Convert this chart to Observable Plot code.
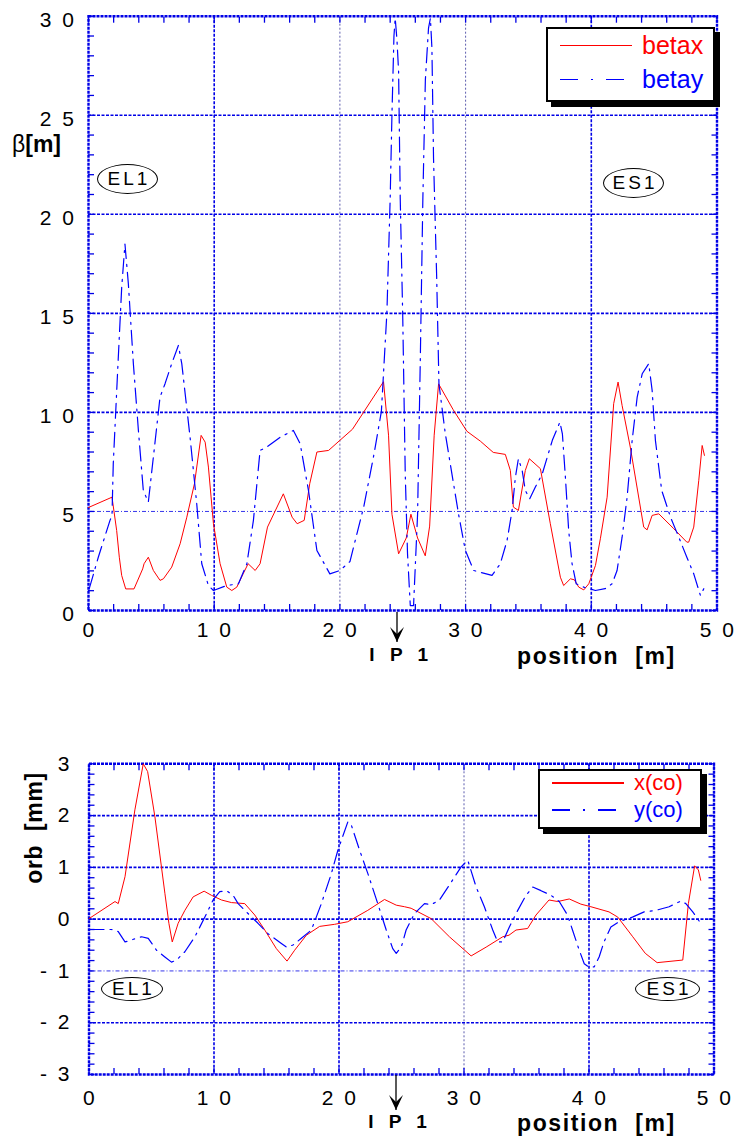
<!DOCTYPE html>
<html><head><meta charset="utf-8">
<script src="https://cdn.jsdelivr.net/npm/d3@7"></script>
<script src="https://cdn.jsdelivr.net/npm/@observablehq/plot@0.6"></script>
<style>
body{margin:0;background:#fff;font-family:"Liberation Sans",Arial,Helvetica,sans-serif;}
#wrap{position:relative;width:735px;height:1138px;overflow:hidden;background:#fff;}
#wrap > svg{position:absolute;left:0;}
g[aria-label="x-axis tick label"] text, g[aria-label="y-axis tick label"] text{letter-spacing:2.5px;}
.legend{position:absolute;background:#fff;border:2px solid #000;box-shadow:5px 5px 0 #000;box-sizing:border-box;}
.legend .row{position:absolute;left:12px;display:flex;align-items:center;}
.legend .sw{width:72px;height:2px;margin-right:10px;}
.ell{position:absolute;border:1px solid #000;border-radius:50%;box-sizing:border-box;display:flex;align-items:center;justify-content:center;font-size:19px;letter-spacing:3px;padding-left:3px;color:#000;background:#fff;}
.ttl{position:absolute;color:#000;font-weight:bold;white-space:pre;}
.ip{position:absolute;font-weight:bold;font-size:19px;letter-spacing:5px;white-space:pre;transform:translateX(-50%);}
</style></head><body><div id="wrap"></div>
<script>
// ---------- data ----------
const xTicks = [0, 10, 20, 30, 40, 50];
const betaTicks = [0, 5, 10, 15, 20, 25, 30];
const orbTicks = [-3, -2, -1, 0, 1, 2, 3];

const betaxPos = [0,1.87,2.24,2.45,2.64,2.96,3.62,4.31,4.42,4.76,5.16,5.69,5.96,6.62,7.29,7.82,8.43,8.96,9.28,9.54,9.94,10.47,11.0,11.4,11.8,12.3,12.7,13.26,13.65,14.24,15.5,16.2,16.6,17.16,17.6,18.17,19.1,20.0,21.0,23.47,23.87,24.14,24.67,25.28,25.65,26.18,26.79,27.14,27.5,27.85,29.0,30.1,31.17,32.2,33.16,33.56,33.8,34.2,34.75,35.07,35.95,36.74,37.54,37.8,38.34,38.65,39.0,39.4,39.8,40.33,40.72,41.26,41.78,42.13,42.45,43.1,44.17,44.44,44.84,45.37,46.56,47.6,47.75,48.15,48.55,48.82,49.0];
const betaxVal = [5.2,5.72,4.04,2.69,1.77,1.09,1.09,2.1,2.36,2.69,2.02,1.52,1.6,2.19,3.37,4.71,6.4,8.84,8.5,7.24,4.38,2.36,1.18,1.01,1.18,1.85,2.36,2.02,2.36,4.21,5.89,4.71,4.38,4.55,6.4,8.0,8.08,8.59,9.15,11.55,8.85,4.86,2.86,3.66,4.86,3.66,2.76,4.26,8.85,11.44,10.15,9.05,8.55,7.98,7.88,7.07,5.22,5.05,7.07,7.66,7.16,4.38,1.68,1.26,1.6,1.55,1.18,1.04,1.35,2.27,3.62,5.72,10.44,11.53,10.35,8.25,4.21,4.07,4.8,4.88,4.13,3.45,3.45,4.21,6.57,8.33,7.83];

const betayPos = [0.06,0.78,1.71,1.87,1.97,2.32,2.64,2.9,3.17,3.57,3.97,4.36,4.76,5.16,5.69,6.09,6.62,7.15,7.42,8.08,8.61,9.01,9.54,9.94,11.0,11.93,12.6,13.12,13.65,14.19,15.25,16.3,16.84,17.5,18.17,19.2,20.0,20.8,21.9,22.7,23.3,23.74,24.0,24.14,24.3,24.4,24.54,24.67,24.8,25.0,25.2,25.38,25.6,25.86,26.18,26.4,26.6,26.8,27.05,27.2,27.32,27.45,27.7,27.88,28.38,29.44,29.97,30.37,30.64,32.1,32.76,33.3,33.7,33.96,34.2,34.5,34.75,35.1,35.55,36.1,36.9,37.5,37.7,37.94,38.2,38.47,38.8,39.4,40.33,41.1,41.66,42.05,42.45,42.85,43.25,43.65,44.05,44.57,44.84,45.1,45.6,46.3,46.96,47.6,48.15,48.68,48.95];
const betayVal = [1.1,2.69,4.55,4.8,7.4,12.1,16.3,18.5,16.5,12.46,9.09,6.06,5.47,7.74,10.77,11.45,12.46,13.38,12.46,8.75,5.39,2.36,1.26,1.01,1.26,1.35,2.36,4.55,8.08,8.25,8.75,9.09,8.42,6.06,3.03,1.85,2.02,2.47,5.25,7.85,10.05,15.05,20.8,25.0,29.0,29.9,28.8,27.2,20.8,14.8,6.86,2.86,0.25,0.25,4.86,12.8,20.8,26.8,29.4,29.9,28.4,22.8,16.8,11.44,8.95,4.86,3.06,2.44,2.02,1.77,2.36,3.54,5.05,6.73,7.66,7.07,6.06,5.64,6.23,6.9,8.59,9.51,8.92,6.73,4.04,2.36,1.35,1.18,1.01,1.1,1.35,2.02,3.7,5.72,8.59,10.77,11.95,12.46,11.11,8.59,6.06,4.71,3.7,2.69,1.85,0.76,1.1];

const xcoPos = [0,2.08,2.34,2.88,3.67,4.34,4.69,5.27,6.07,6.39,6.66,7.13,7.67,8.33,9.21,9.8,10.6,11.4,12.46,13.26,14.06,14.99,15.84,16.45,17.39,18.45,19.65,20.7,22.3,23.64,24.58,25.24,25.77,27.37,28.83,30.57,31.77,33.1,33.6,34.16,35.09,35.76,36.8,37.5,38.42,39.35,40.15,41.6,42.3,43.5,44.5,45.45,47.5,47.95,48.45,48.75,48.94];
const xcoVal = [0.01,0.34,0.3,0.82,2.11,3.0,2.85,1.98,0.5,-0.08,-0.44,-0.08,0.17,0.43,0.54,0.46,0.37,0.32,0.3,0.08,-0.21,-0.57,-0.81,-0.6,-0.31,-0.14,-0.1,-0.05,0.17,0.38,0.27,0.24,0.21,0.01,-0.34,-0.71,-0.54,-0.34,-0.31,-0.21,-0.18,0.08,0.37,0.34,0.39,0.29,0.24,0.14,0.04,-0.34,-0.66,-0.84,-0.79,0.3,1.03,0.95,0.75];

const ycoPos = [0,1.81,2.34,2.88,4.21,4.74,5.4,6.07,6.6,7.0,7.67,8.47,9.27,9.93,10.46,11.0,11.53,11.93,12.72,13.52,14.32,15.39,15.79,16.32,16.99,17.79,18.59,19.39,19.91,20.71,20.98,21.65,22.31,23.1,23.78,24.3,24.58,24.98,25.37,26.04,26.84,27.37,28.04,28.83,29.77,30.3,30.97,31.63,32.3,32.69,33.1,33.63,34.3,34.96,35.5,36.16,36.96,37.62,38.28,38.68,39.22,39.62,40.02,40.42,40.81,41.2,41.75,42.41,43.47,44.41,45.35,46.41,47.35,47.75,48.3,48.94];
const ycoVal = [-0.2,-0.2,-0.24,-0.44,-0.34,-0.37,-0.6,-0.73,-0.83,-0.79,-0.63,-0.34,0.04,0.37,0.53,0.55,0.46,0.3,0.11,-0.08,-0.28,-0.47,-0.54,-0.5,-0.37,-0.21,0.3,0.88,1.33,1.88,1.82,1.33,0.88,0.3,-0.21,-0.57,-0.66,-0.54,-0.21,0.11,0.3,0.28,0.37,0.66,1.01,1.14,0.62,0.24,-0.21,-0.44,-0.44,-0.15,0.17,0.46,0.62,0.55,0.46,0.34,0.08,-0.21,-0.6,-0.86,-0.93,-0.92,-0.73,-0.44,-0.15,-0.05,0.04,0.14,0.17,0.24,0.35,0.3,0.14,-0.08];

const ipPos = [24.6];
const topLabels = ["EL1", "ES1"];
const legendTop = ["betax", "betay"];
const legendBot = ["x(co)", "y(co)"];

// ---------- helpers ----------
const BLUE = "#0000e6";
const spaced = d => d < 0 ? "- " + String(-d).split("").join(" ") : String(d).split("").join(" ");
const range = (a, b, s) => { const r = []; for (let v = a; v <= b + 1e-9; v += s) r.push(+v.toFixed(3)); return r; };
const DASH = "15,6,2,6";

function frameMarks(xMinor, yMinor, gridThickX, gridThinX, gridThickY, gridThinY) {
  const gs = {stroke: BLUE, strokeOpacity: 1};
  return [
    Plot.gridX({ticks: gridThickX, ...gs, strokeWidth: 1.6, strokeDasharray: "3,1.5"}),
    Plot.gridX({ticks: gridThinX, stroke: "#333399", strokeOpacity: 1, strokeWidth: 0.8, strokeDasharray: "2,2"}),
    Plot.gridY({ticks: gridThickY, ...gs, strokeWidth: 1.6, strokeDasharray: "3,1.5"}),
    Plot.gridY({ticks: gridThinY, ...gs, strokeWidth: 0.8, strokeDasharray: "4,2,1,2"}),
    Plot.axisX({ticks: xMinor, anchor: "bottom", tickSize: -6, tickFormat: () => "", label: null, stroke: BLUE, strokeWidth: 1.3}),
    Plot.axisX({ticks: xMinor, anchor: "top", tickSize: -6, tickFormat: () => "", label: null, stroke: BLUE, strokeWidth: 1.3}),
    Plot.axisY({ticks: yMinor, anchor: "left", tickSize: -6, tickFormat: () => "", label: null, stroke: BLUE, strokeWidth: 1.3}),
    Plot.axisY({ticks: yMinor, anchor: "right", tickSize: -6, tickFormat: () => "", label: null, stroke: BLUE, strokeWidth: 1.3}),
    Plot.frame({stroke: BLUE, strokeWidth: 2.4, strokeDasharray: "3,1"})
  ];
}

const wrap = document.getElementById("wrap");

// ---------- top chart ----------
const topPlot = Plot.plot({
  width: 735, height: 680,
  marginLeft: 88, marginRight: 18.5, marginTop: 15.7, marginBottom: 70,
  style: {fontFamily: "'Liberation Sans', Arial, sans-serif", background: "transparent", color: "#000"},
  x: {domain: [0, 50]},
  y: {domain: [0, 30]},
  marks: [
    ...frameMarks(range(0, 50, 2), range(0, 30, 1), [10, 40], [20, 30], [10, 15, 20, 25], [5]),
    Plot.line(betaxVal, {x: betaxPos, y: betaxVal, stroke: "#ff0000", strokeWidth: 1, clip: true}),
    Plot.line(betayVal, {x: betayPos, y: betayVal, stroke: "#0000ff", strokeWidth: 1.2, strokeDasharray: DASH, clip: true}),
    Plot.axisX({ticks: xTicks, tickSize: 0, tickPadding: 12, fontSize: 21, tickFormat: spaced, label: null, dx: 1}),
    Plot.axisY({ticks: betaTicks, tickSize: 0, tickPadding: 12, fontSize: 21, tickFormat: spaced, label: null, dy: 4})
  ]
});
topPlot.style.top = "0px";
wrap.appendChild(topPlot);

// ---------- bottom chart ----------
const BOT_TOP = 690;
const botPlot = Plot.plot({
  width: 735, height: 448,
  marginLeft: 88.5, marginRight: 21.5, marginTop: 73.3, marginBottom: 64,
  style: {fontFamily: "'Liberation Sans', Arial, sans-serif", background: "transparent", color: "#000"},
  x: {domain: [0, 50]},
  y: {domain: [-3, 3]},
  marks: [
    ...frameMarks(range(0, 50, 2), range(-3, 3, 0.2), [10, 20, 40], [30], [-2, 0, 1, 2], [-1]),
    Plot.line(xcoVal, {x: xcoPos, y: xcoVal, stroke: "#ff0000", strokeWidth: 1, clip: true}),
    Plot.line(ycoVal, {x: ycoPos, y: ycoVal, stroke: "#0000ff", strokeWidth: 1.2, strokeDasharray: DASH, clip: true}),
    Plot.axisX({ticks: xTicks, tickSize: 0, tickPadding: 16, fontSize: 21, tickFormat: spaced, label: null, dx: 1}),
    Plot.axisY({ticks: orbTicks, tickSize: 0, tickPadding: 17, fontSize: 21, tickFormat: spaced, label: null})
  ]
});
botPlot.style.top = BOT_TOP + "px";
wrap.appendChild(botPlot);

// ---------- annotations ----------
function addHTML(html) { const d = document.createElement("div"); d.innerHTML = html; const el = d.firstElementChild; wrap.appendChild(el); return el; }

// axis titles
addHTML(`<div class="ttl" style="left:12px;top:131px;font-size:23px;"><span style="font-weight:normal">β</span>[m]</div>`);
addHTML(`<div class="ttl" style="left:517px;top:643px;font-size:23px;letter-spacing:1.6px">position  [m]</div>`);
addHTML(`<div class="ttl" style="left:517px;top:1110px;font-size:23px;letter-spacing:1.6px">position  [m]</div>`);
addHTML(`<div class="ttl" style="left:34px;top:828px;font-size:23px;letter-spacing:0.6px;transform:translate(-50%,-50%) rotate(-90deg);">orb  [mm]</div>`);

// IP1 arrows
function ipArrow(plot, y0, y1, textTop) {
  const px = plot.scale("x").apply(ipPos[0]);
  const ns = "http://www.w3.org/2000/svg";
  const s = document.createElementNS(ns, "svg");
  s.setAttribute("width", 20); s.setAttribute("height", y1 - y0 + 2);
  s.style.position = "absolute"; s.style.left = (px - 10) + "px"; s.style.top = y0 + "px";
  const h = y1 - y0;
  s.innerHTML = `<line x1="10" y1="0" x2="10" y2="${h}" stroke="#000" stroke-width="1.3"/>
    <path d="M3,${h-15} L10,${h} L17,${h-15} L10,${h-8} Z" fill="#000"/>`;
  wrap.appendChild(s);
  addHTML(`<div class="ip" style="left:${px + 4}px;top:${textTop}px;">I P 1</div>`);
}
ipArrow(topPlot, 612, 642, 644);
ipArrow(botPlot, 1075, 1110, 1111);

// ellipse labels
const ell = (label, l, t, w, h) => addHTML(`<div class="ell" style="left:${l}px;top:${t}px;width:${w}px;height:${h}px;">${label}</div>`);
ell(topLabels[0], 97, 164, 61, 30);
ell(topLabels[1], 603, 168, 61, 30);
ell(topLabels[0], 101, 977, 62, 24);
ell(topLabels[1], 635, 977, 65, 24);

// legends
function legend(l, t, w, h, names, rows, fs) {
  const el = addHTML(`<div class="legend" style="left:${l}px;top:${t}px;width:${w}px;height:${h}px;"></div>`);
  names.forEach((n, i) => {
    const col = i === 0 ? "#ff0000" : "#0000ff";
    const dash = i === 0 ? `background:${col};height:1.5px;` : `height:1.5px;background:repeating-linear-gradient(90deg,${col} 0 18px,transparent 18px 31px,${col} 31px 33px,transparent 33px 46px);`;
    const row = document.createElement("div");
    row.className = "row";
    row.style.top = rows[i] + "px";
    row.innerHTML = `<div class="sw" style="${dash}"></div><span style="color:${col};font-size:${fs}px;line-height:1;">${n}</span>`;
    el.appendChild(row);
  });
}
legend(546, 27, 169, 75, legendTop, [4, 38], 25);
legend(538, 769, 164, 60, legendBot, [1, 28], 22);
</script></body></html>
